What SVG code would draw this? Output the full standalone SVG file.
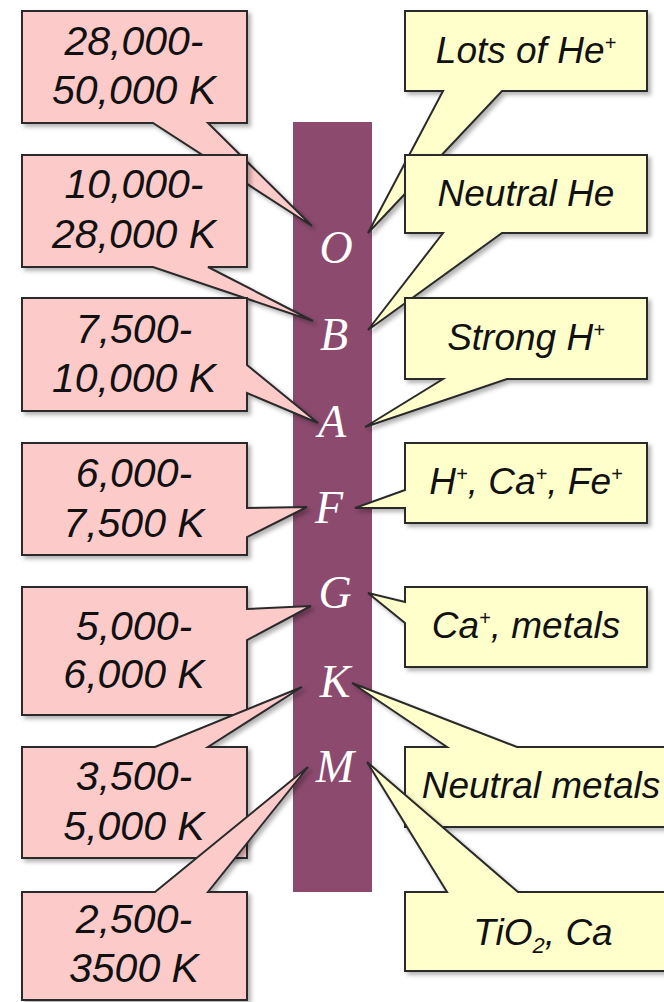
<svg xmlns="http://www.w3.org/2000/svg" width="664" height="1002" viewBox="0 0 664 1002">
<style>
  .pink { fill: #fdcaca; stroke: #2b2b2b; stroke-width: 2; stroke-linejoin: miter; filter: url(#sh); }
  .yel { fill: #ffffcc; stroke: #2b2b2b; stroke-width: 2; stroke-linejoin: miter; filter: url(#sh); }
  .lt { font-family: "Liberation Sans", Arial, sans-serif; font-style: italic; font-size: 41px; fill: #111; text-anchor: middle; }
  .rt { font-family: "Liberation Sans", Arial, sans-serif; font-style: italic; font-size: 37px; fill: #111; text-anchor: middle; }
  .sup { font-size: 20px; }
  .sub { font-size: 22px; }
  .cls { font-family: "Liberation Serif", "Times New Roman", serif; font-style: italic; font-size: 46px; fill: #ffffff; text-anchor: middle; }
</style>
<defs>
  <filter id="sh" x="-10%" y="-10%" width="130%" height="130%">
    <feDropShadow dx="3" dy="3" stdDeviation="2" flood-color="#000" flood-opacity="0.3"/>
  </filter>
</defs>
<rect x="0" y="0" width="664" height="1002" fill="#ffffff"/>

<g id="bar">
  <rect x="293" y="122" width="79" height="770" fill="#8b4a6e"/>
</g>

<g id="connectors"></g>

<!-- left temperature callouts -->
<g id="t-O">
  <path class="pink" d="M22,11 H247 V123 H208 L312,226 L153,123 H22 Z"/>
  <text class="lt" x="134" y="55">28,000-</text>
  <text class="lt" x="134" y="104">50,000 K</text>
</g>
<g id="t-B">
  <path class="pink" d="M22,155 H247 V267 H208 L313,321 L153,267 H22 Z"/>
  <text class="lt" x="134" y="198">10,000-</text>
  <text class="lt" x="134" y="248">28,000 K</text>
</g>
<g id="t-A">
  <path class="pink" d="M22,298 H247 V365 L318,423 L247,393 V411 H22 Z"/>
  <text class="lt" x="134" y="343">7,500-</text>
  <text class="lt" x="134" y="392">10,000 K</text>
</g>
<g id="t-F">
  <path class="pink" d="M22,443 H247 V508 L307,507 L247,537 V555 H22 Z"/>
  <text class="lt" x="134" y="487">6,000-</text>
  <text class="lt" x="134" y="537">7,500 K</text>
</g>
<g id="t-G">
  <path class="pink" d="M22,587 H247 V609 L311,606 L247,640 V715 H22 Z"/>
  <text class="lt" x="134" y="640">5,000-</text>
  <text class="lt" x="134" y="688">6,000 K</text>
</g>
<g id="t-K">
  <path class="pink" d="M22,747 H155 L302,687 L208,747 H247 V858 H22 Z"/>
  <text class="lt" x="134" y="790">3,500-</text>
  <text class="lt" x="134" y="840">5,000 K</text>
</g>
<g id="t-M">
  <path class="pink" d="M22,892 H155 L308,767 L208,892 H247 V1000 H22 Z"/>
  <text class="lt" x="134" y="933">2,500-</text>
  <text class="lt" x="134" y="982">3500 K</text>
</g>

<!-- right spectral-feature callouts -->
<g id="s-O">
  <path class="yel" d="M405,11 H647 V91 H502 L368,233 L443,91 H405 Z"/>
  <text class="rt" x="526" y="63">Lots of He<tspan class="sup" dy="-13">+</tspan></text>
</g>
<g id="s-B">
  <path class="yel" d="M405,155 H647 V233 H502 L368,330 L443,233 H405 Z"/>
  <text class="rt" x="526" y="206">Neutral He</text>
</g>
<g id="s-A">
  <path class="yel" d="M405,298 H647 V379 H507 L365,427 L443,379 H405 Z"/>
  <text class="rt" x="526" y="350">Strong H<tspan class="sup" dy="-13">+</tspan></text>
</g>
<g id="s-F">
  <path class="yel" d="M405,443 H647 V523 H405 V508 L355,508 L405,490 Z"/>
  <text class="rt" x="526" y="494">H<tspan class="sup" dy="-13">+</tspan><tspan dy="13">, Ca</tspan><tspan class="sup" dy="-13">+</tspan><tspan dy="13">, Fe</tspan><tspan class="sup" dy="-13">+</tspan></text>
</g>
<g id="s-G">
  <path class="yel" d="M405,587 H647 V667 H405 V623 L368,593 L405,602 Z"/>
  <text class="rt" x="526" y="638">Ca<tspan class="sup" dy="-13">+</tspan><tspan dy="13">, metals</tspan></text>
</g>
<g id="s-K">
  <path class="yel" d="M405,747 H447 L352,683 L517,747 H680 V827 H405 Z"/>
  <text class="rt" x="541" y="798">Neutral metals</text>
</g>
<g id="s-M">
  <path class="yel" d="M405,892 H447 L367,762 L518,892 H680 V971 H405 Z"/>
  <text class="rt" x="543" y="945">TiO<tspan class="sub" dy="8">2</tspan><tspan dy="-8">, Ca</tspan></text>
</g>

<!-- spectral class letters -->
<g id="classes">
  <text id="c-O" class="cls" x="336" y="263">O</text>
  <text id="c-B" class="cls" x="334" y="350">B</text>
  <text id="c-A" class="cls" x="332" y="437">A</text>
  <text id="c-F" class="cls" x="329" y="523">F</text>
  <text id="c-G" class="cls" x="335" y="608">G</text>
  <text id="c-K" class="cls" x="335" y="697">K</text>
  <text id="c-M" class="cls" x="335" y="782">M</text>
</g>
</svg>
